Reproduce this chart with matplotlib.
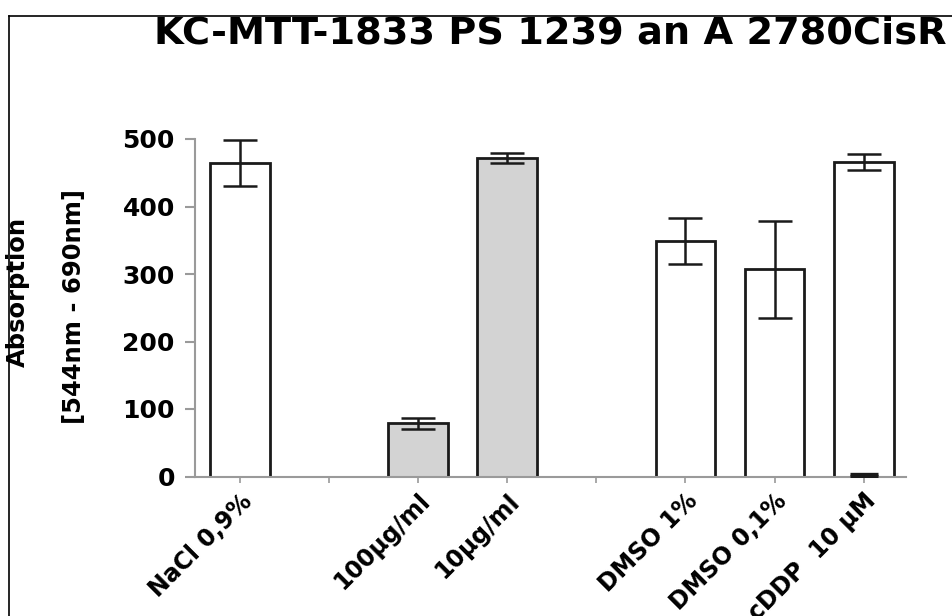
import matplotlib
matplotlib.use("Agg")
import matplotlib.pyplot as plt
from matplotlib.lines import Line2D

# data
labels = ["NaCl 0,9%", "", "100µg/ml", "10µg/ml", "", "DMSO 1%", "DMSO 0,1%", "cDDP  10 µM"]
values = [464, 0, 79, 472, 0, 349, 307, 466]
errors = [34, 0, 8, 7, 0, 34, 72, 12]
filled = [True, False, True, True, False, True, True, True]
colors = ["white", "white", "#d3d3d3", "#d3d3d3", "white", "white", "white", "white"]
# short mark at the foot of the cDDP bar
blank_x = [7]
blank_val = [2]
blank_err = [1.5]

W, H = 952, 616
fig = plt.figure(figsize=(W / 100, H / 100), dpi=100)
plt.rcParams["font.family"] = ["DejaVu Sans"]

ax = fig.add_axes([195 / W, 1 - 476.5 / H, (906 - 195) / W, (476.5 - 139) / H])

xs = [i for i in range(len(labels)) if filled[i]]
ax.bar(xs, [values[i] for i in xs], width=0.67,
       color=[colors[i] for i in xs], edgecolor="#1a1a1a", linewidth=2, zorder=2)
ax.errorbar(xs, [values[i] for i in xs], yerr=[errors[i] for i in xs], fmt="none",
            ecolor="#1a1a1a", elinewidth=1.8, capsize=12, capthick=1.8, zorder=3,
            clip_on=False)
ax.errorbar(blank_x, blank_val, yerr=blank_err, fmt="none", ecolor="#1a1a1a",
            elinewidth=1.8, capsize=10, capthick=2.4, zorder=3)

ax.set_xlim(-0.505, 7.475)
ax.set_ylim(0, 500)
ax.set_yticks([0, 100, 200, 300, 400, 500])
ax.set_xticks(range(len(labels)))
ax.set_xticklabels(labels, rotation=45, ha="right", va="top", rotation_mode="anchor",
                   fontsize=17, fontweight="bold")
for t in ax.get_yticklabels():
    t.set_fontsize(18)
    t.set_fontweight("bold")

for s in ["top", "right"]:
    ax.spines[s].set_visible(False)
for s in ["left", "bottom"]:
    ax.spines[s].set_color("#9a9a9a")
    ax.spines[s].set_linewidth(1.5)
ax.tick_params(axis="y", length=7.5, width=1.5, color="#9a9a9a", pad=7)
ax.tick_params(axis="x", length=4, width=1.2, color="#9a9a9a", pad=5)

fig.text(154 / W, 1 - 43 / H, "KC-MTT-1833 PS 1239 an A 2780CisR", ha="left",
         va="baseline", fontsize=27.5, fontweight="bold")
fig.text(18 / W, 1 - 292 / H, "Absorption", rotation=90, ha="center", va="center",
         fontsize=17.5, fontweight="bold")
fig.text(74 / W, 1 - 306 / H, "[544nm - 690nm]", rotation=90, ha="center", va="center",
         fontsize=17.5, fontweight="bold")

# outer frame, cut off at right and bottom
fig.add_artist(Line2D([9 / W, 1], [1 - 16 / H, 1 - 16 / H], color="black", lw=1.2))
fig.add_artist(Line2D([9 / W, 9 / W], [0, 1 - 16 / H], color="black", lw=1.2))

fig.savefig("out.png", dpi=100)
